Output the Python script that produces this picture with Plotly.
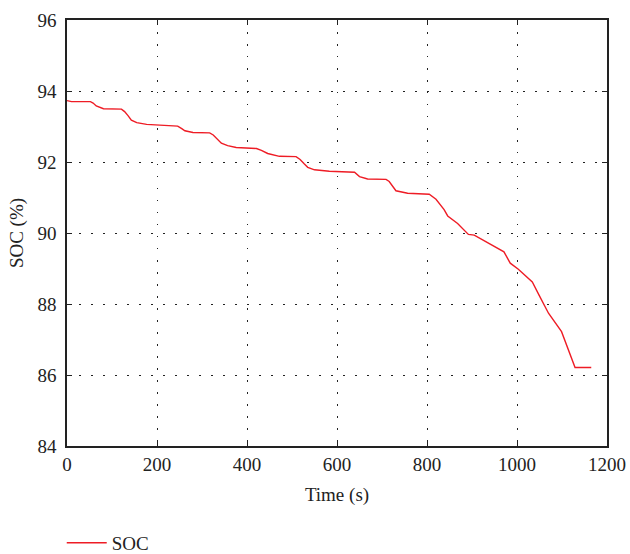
import plotly.graph_objects as go

time_s = [0, 10, 52, 58, 65, 81, 121, 128, 136, 143, 155, 177, 206, 246, 255, 262, 280,
          317, 325, 333, 343, 357, 376, 421, 432, 446, 472, 509, 518, 527, 535, 550, 583,
          639, 650, 668, 709, 716, 723, 731, 757, 805, 820, 838, 846, 868, 892, 905, 971,
          985, 1003, 1034, 1049, 1070, 1099, 1129, 1165]
soc = [93.73, 93.70, 93.70, 93.66, 93.58, 93.50, 93.49, 93.42, 93.30, 93.18, 93.11, 93.06,
       93.04, 93.01, 92.94, 92.88, 92.83, 92.82, 92.76, 92.65, 92.53, 92.46, 92.41, 92.38,
       92.33, 92.24, 92.16, 92.15, 92.07, 91.95, 91.85, 91.78, 91.74, 91.71, 91.59, 91.52,
       91.51, 91.45, 91.32, 91.19, 91.12, 91.09, 90.95, 90.66, 90.48, 90.27, 89.96, 89.94,
       89.47, 89.15, 88.98, 88.62, 88.25, 87.74, 87.22, 86.21, 86.21]

x_ticks = [0, 200, 400, 600, 800, 1000, 1200]
y_ticks = [84, 86, 88, 90, 92, 94, 96]

font_family = "Liberation Serif, DejaVu Serif, serif"

fig = go.Figure()
fig.add_trace(go.Scatter(x=time_s, y=soc, mode="lines", name="SOC",
                         line=dict(color="#ee1c25", width=1.4)))

axis_common = dict(
    showline=True, linecolor="#222222", linewidth=1.5, mirror="allticks",
    ticks="inside", ticklen=5, tickcolor="#222222", tickwidth=1.2,
    showgrid=True, gridcolor="#222222", gridwidth=1.2, griddash="1.5px,10.5px",
    zeroline=False, automargin=False,
    tickfont=dict(family=font_family, size=19, color="#222222"),
)

fig.update_layout(
    width=630, height=554,
    margin=dict(l=67, r=23, t=20, b=108),
    paper_bgcolor="white", plot_bgcolor="white",
    font=dict(family=font_family, size=19, color="#222222"),
    xaxis=dict(range=[0, 1200], tickvals=x_ticks, ticklabelstandoff=0,
               title=dict(text="Time (s)", font=dict(size=19), standoff=14),
               **axis_common),
    yaxis=dict(range=[84, 96], tickvals=y_ticks, ticklabelstandoff=5,
               title=dict(text="SOC (%)", font=dict(size=19), standoff=9),
               **axis_common),
    showlegend=True,
    legend=dict(xref="container", yref="container", x=0.098, y=0.02,
                xanchor="left", yanchor="middle",
                orientation="h", itemwidth=40,
                font=dict(size=19), bgcolor="rgba(0,0,0,0)"),
)

fig.write_html("out.html", config={"displayModeBar": False},
               post_script="document.body.style.margin='0px';document.body.style.overflow='hidden';")
